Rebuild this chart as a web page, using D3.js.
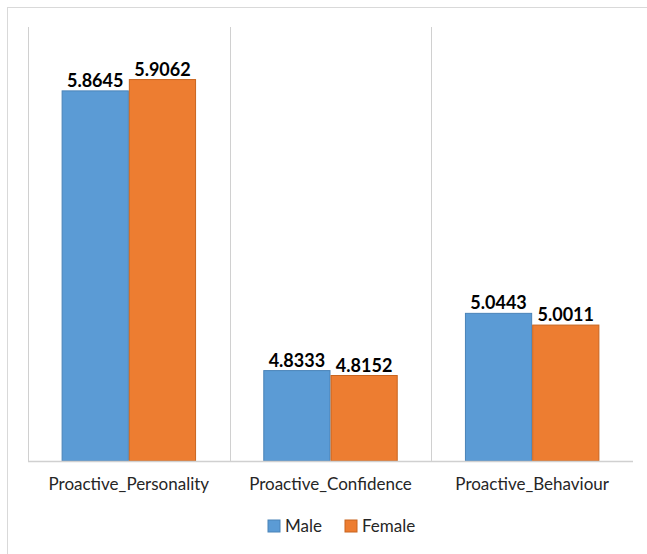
<!DOCTYPE html>
<html>
  <head>
    <meta http-equiv="Content-Type" content="text/html;charset=utf-8"/>
    <title>Proactive scores by gender</title>
    <script src="https://d3js.org/d3.v7.min.js"></script>
    <style>
      body { margin: 0; background: #fff; }
      text { font-family: Lato, "Open Sans", sans-serif; }
    </style>
  </head>
  <body>
    <script type="text/javascript">
        const categories = ['Proactive_Personality', 'Proactive_Confidence', 'Proactive_Behaviour']
        const seriesNames = ['Male', 'Female']
        const maleValues = [5.8645, 4.8333, 5.0443]
        const femaleValues = [5.9062, 4.8152, 5.0011]
        const colors = ['#5b9bd5', '#ed7d31']
        const strokes = ['#4a83b8', '#c8651f']

        const width = 647,
              height = 554

        const svg = d3.select('body').append('svg')
            .attr('width', width)
            .attr('height', height)

        // chart frame (runs off the picture on right and bottom)
        svg.append('rect')
            .attr('x', 7.5).attr('y', 7.5)
            .attr('width', 700).attr('height', 700)
            .attr('fill', 'none')
            .attr('stroke', '#d9d9d9')

        const plotLeft = 28, plotRight = 633, plotTop = 27, plotBottom = 461

        const x = d3.scaleBand().domain(categories).range([plotLeft, plotRight])
        const xInner = d3.scaleBand().domain(seriesNames)
            .range([0, x.bandwidth()]).paddingOuter(0.5).paddingInner(0)
        const y = d3.scaleLinear().domain([4.5, 6.1]).range([plotBottom, plotTop])

        // category separators
        svg.append('g').selectAll('line')
            .data(categories)
            .join('line')
            .attr('x1', d => Math.round(x(d)) + 0.5)
            .attr('x2', d => Math.round(x(d)) + 0.5)
            .attr('y1', plotTop).attr('y2', plotBottom)
            .attr('stroke', '#d0d0d0')

        const rows = categories.map((c, i) => ({
            cat: c,
            vals: [maleValues[i], femaleValues[i]]
        }))

        const groups = svg.append('g').selectAll('g')
            .data(rows)
            .join('g')
            .attr('transform', d => 'translate(' + x(d.cat) + ',0)')

        groups.selectAll('rect')
            .data(d => d.vals.map((v, j) => ({ v: v, s: seriesNames[j], j: j })))
            .join('rect')
            .attr('x', d => xInner(d.s) + 0.5)
            .attr('y', d => y(d.v))
            .attr('width', xInner.bandwidth() - 1)
            .attr('height', d => plotBottom - y(d.v))
            .attr('fill', d => colors[d.j])
            .attr('stroke', d => strokes[d.j])
            .attr('stroke-width', 1)

        groups.selectAll('text.val')
            .data(d => d.vals.map((v, j) => ({ v: v, s: seriesNames[j] })))
            .join('text')
            .attr('class', 'val')
            .attr('x', d => xInner(d.s) + xInner.bandwidth() / 2)
            .attr('y', d => y(d.v) - 4)
            .attr('text-anchor', 'middle')
            .style('font-size', '18px')
            .style('font-weight', 'bold')
            .style('fill', '#000')
            .text(d => d.v.toFixed(4))

        // baseline
        svg.append('line')
            .attr('x1', plotLeft).attr('x2', plotRight)
            .attr('y1', plotBottom + 0.5).attr('y2', plotBottom + 0.5)
            .attr('stroke', '#d0d0d0')
            .attr('stroke-width', 1.5)

        // category labels
        svg.append('g').selectAll('text')
            .data(categories)
            .join('text')
            .attr('x', d => x(d) + x.bandwidth() / 2)
            .attr('y', 490)
            .attr('text-anchor', 'middle')
            .style('font-size', '17px')
            .style('fill', '#262626')
            .text(d => d)

        // legend
        const legendX = [268, 345]
        const legend = svg.append('g').selectAll('g')
            .data(seriesNames)
            .join('g')
            .attr('transform', (d, i) => 'translate(' + legendX[i] + ',520)')

        legend.append('rect')
            .attr('width', 12).attr('height', 12)
            .attr('fill', (d, i) => colors[i])
            .attr('stroke', (d, i) => strokes[i])

        legend.append('text')
            .attr('x', 17)
            .attr('y', 12)
            .style('font-size', '17px')
            .style('fill', '#262626')
            .text(d => d)
    </script>
  </body>
</html>
